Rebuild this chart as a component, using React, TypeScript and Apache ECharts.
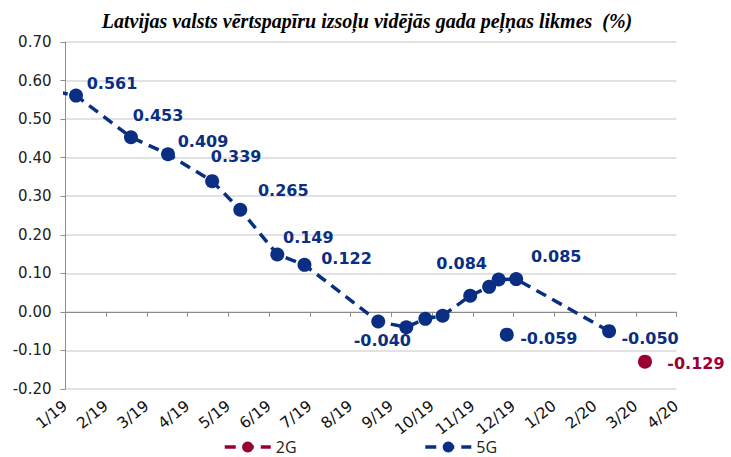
import React, { useEffect, useRef } from "react";
import * as echarts from "echarts";

// Auction dates and average annual yields (%)
const dates5G = [
  "2018-12-12", "2019-01-09", "2019-02-18", "2019-03-17", "2019-04-19", "2019-05-10",
  "2019-06-07", "2019-06-27", "2019-08-22", "2019-09-12", "2019-09-26", "2019-10-09",
  "2019-10-30", "2019-11-13", "2019-11-20", "2019-12-03", "2020-02-11",
];
const values5G = [
  0.58, 0.561, 0.453, 0.409, 0.339, 0.265,
  0.149, 0.122, -0.025, -0.04, -0.018, -0.01,
  0.042, 0.065, 0.084, 0.085, -0.05,
];
const dates5GSeparate = ["2019-11-26"];
const values5GSeparate = [-0.059];
const dates2G = ["2020-03-08"];
const values2G = [-0.129];

const monthTicks = ["1/19", "2/19", "3/19", "4/19", "5/19", "6/19", "7/19", "8/19", "9/19", "10/19", "11/19", "12/19", "1/20", "2/20", "3/20", "4/20"];
const yTicks = [-0.2, -0.1, 0, 0.1, 0.2, 0.3, 0.4, 0.5, 0.6, 0.7];

// label placement (dx, dy) for each point of the 5G series; null = no label
const labelOffsets5G: (number[] | null)[] = [
  null, [36, -12], [27, -22], [35, -13], [24, -25], [43, -19],
  [31, -17], [42, -6], null, [-24, 13], null, null,
  null, null, [-37, -16], [40, -23], [41, 7],
];
const labelOffsets5GSeparate = [[42, 4]];
const labelOffsets2G = [[51, 2]];

const BLUE = "#0a2f82";
const RED = "#9b0035";

function monthOffset(d: string): number {
  const [y, m, day] = d.split("-").map(Number);
  const dim = new Date(y, m, 0).getDate();
  return (y - 2019) * 12 + (m - 1) + (day - 1) / dim;
}

function buildData(dates: string[], values: number[], offsets: (number[] | null)[]) {
  return dates.map((d, i) => {
    const off = offsets[i];
    return {
      value: [monthOffset(d), values[i]],
      label: off ? { show: true, offset: off } : { show: false },
    };
  });
}

export default function App() {
  const ref = useRef<HTMLDivElement>(null);
  useEffect(() => {
    if (!ref.current) return;
    const chart = echarts.init(ref.current, null, { renderer: "svg" });
    const labelBase = (color: string) => ({
      show: true,
      position: "inside" as const,
      color,
      fontFamily: "DejaVu Sans",
      fontWeight: "bold" as const,
      fontSize: 16,
      formatter: (p: any) => Number(p.value[1]).toFixed(3),
    });
    const lineSeries = (name: string, color: string, data: any[]) => ({
      name,
      type: "line",
      xAxisIndex: 0,
      yAxisIndex: 0,
      data,
      clip: true,
      symbol: "circle",
      symbolSize: 14,
      itemStyle: { color },
      lineStyle: { color, width: 3.5, type: [11, 7] },
      label: labelBase(color),
      emphasis: { disabled: true },
    });
    chart.setOption({
      animation: false,
      title: {
        text: "Latvijas valsts vērtspapīru izsoļu vidējās gada peļņas likmes  (%)",
        left: 362,
        textAlign: "center",
        top: 6,
        textStyle: {
          fontFamily: "Liberation Serif",
          fontStyle: "italic",
          fontWeight: "bold",
          fontSize: 20,
          color: "#000",
        },
      },
      legend: {
        data: ["2G", "5G"],
        left: 223,
        top: 439,
        padding: 0,
        itemWidth: 46,
        itemHeight: 14,
        itemGap: 127,
        lineStyle: { width: 3.5 },
        textStyle: { fontFamily: "Open Sans", fontSize: 16, color: "#222" },
      },
      grid: { left: 65.5, right: 54.5, top: 42, bottom: 68, containLabel: false },
      xAxis: [
        {
          type: "value",
          position: "bottom",
          min: 0,
          max: monthTicks.length - 1,
          interval: 1,
          axisLine: { show: false, onZero: false },
          axisTick: { show: false },
          splitLine: { show: false },
          axisLabel: {
            rotate: 38,
            margin: 15,
            fontFamily: "DejaVu Sans",
            fontSize: 15.5,
            color: "#111",
            formatter: (v: number) => monthTicks[Math.round(v)] ?? "",
          },
        },
        {
          type: "value",
          position: "top",
          min: 0,
          max: monthTicks.length - 1,
          interval: 1,
          axisLine: { show: true, onZero: true, lineStyle: { color: "#8c8c8c", width: 1 } },
          axisTick: { show: true, inside: true, length: 5, lineStyle: { color: "#8c8c8c" } },
          axisLabel: { show: false },
          splitLine: { show: false },
        },
      ],
      yAxis: {
        type: "value",
        min: yTicks[0],
        max: yTicks[yTicks.length - 1],
        interval: 0.1,
        axisLine: { show: true, lineStyle: { color: "#8c8c8c" } },
        axisTick: { show: true, length: 5, lineStyle: { color: "#8c8c8c" } },
        splitLine: { show: true, lineStyle: { color: "#d9d9d9", width: 1.5 } },
        axisLabel: {
          margin: 14,
          fontFamily: "DejaVu Sans",
          fontSize: 15,
          color: "#222",
          formatter: (v: number) => v.toFixed(2),
        },
      },
      series: [
        lineSeries("2G", RED, buildData(dates2G, values2G, labelOffsets2G)),
        lineSeries("5G", BLUE, buildData(dates5G, values5G, labelOffsets5G)),
        lineSeries("5G", BLUE, buildData(dates5GSeparate, values5GSeparate, labelOffsets5GSeparate)),
      ],
    });
    return () => chart.dispose();
  }, []);
  return (
    <div
      ref={ref}
      style={{ position: "fixed", left: 0, top: 0, width: 731, height: 457, background: "#fff" }}
    />
  );
}
